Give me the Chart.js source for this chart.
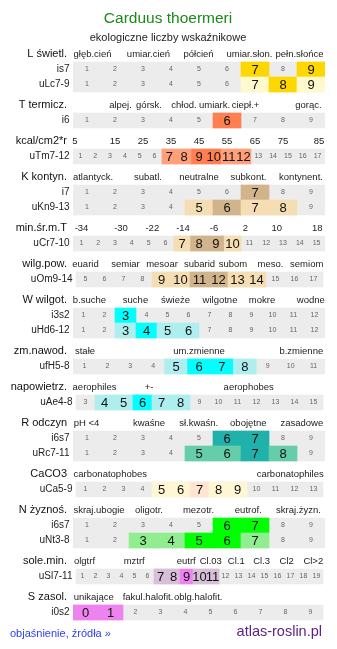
<!DOCTYPE html>
<html><head><meta charset="utf-8">
<script src="https://cdn.jsdelivr.net/npm/chart.js@4/dist/chart.umd.min.js"></script>
<style>html,body{margin:0;padding:0;background:#fff}#wrap{position:relative;width:337px;height:649px}</style>
</head><body><div id="wrap"><canvas id="c"></canvas></div>
<script>
// ---------- DATA ----------
const title = 'Carduus thoermeri';
const subtitle = 'ekologiczne liczby wskaźnikowe';
const groupNames = ['L świetl.','T termicz.','kcal/cm2*r','K kontyn.','min.śr.m.T','wilg.pow.','W wilgot.','zm.nawod.','napowietrz.','R odczyn','CaCO3','N żyznoś.','sole.min.','S zasol.'];
const groupRowCounts = [2,1,1,2,1,1,2,1,1,2,1,2,1,1];
const scaleLabels = [
  ['głęb.cień','umiar.cień','półcień','umiar.słon.','pełn.słońce'],
  ['alpej.','górsk.','chłod.','umiark.','ciepł.+','gorąc.'],
  ['5','15','25','35','45','55','65','75','85'],
  ['atlantyck.','subatl.','neutralne','subkont.','kontynent.'],
  ['-34','-30','-22','-14','-6','2','10','18'],
  ['euarid','semiar','mesoar','subarid','subom','meso.','semiom'],
  ['b.suche','suche','świeże','wilgotne','mokre','wodne'],
  ['stałe','um.zmienne','b.zmienne'],
  ['aerophiles','+-','aerophobes'],
  ['pH <4','kwaśne','sł.kwaśn.','obojętne','zasadowe'],
  ['carbonatophobes','carbonatophiles'],
  ['skraj.ubogie','oligotr.','mezotr.','eutrof.','skraj.żyzn.'],
  ['olgtrf','mztrf','eutrf','Cl.03','Cl.1','Cl.3','Cl2','Cl>2'],
  ['unikające','fakul.halofit.','oblg.halofit.']
];
const rowLabels = ['is7','uLc7-9','i6','uTm7-12','i7','uKn9-13','uCr7-10','uOm9-14','i3s2','uHd6-12','ufH5-8','uAe4-8','i6s7','uRc7-11','uCa5-9','i6s7','uNt3-8','uSl7-11','i0s2'];
const rowFirst = [1,1,1,1,1,1,1,5,1,1,1,3,1,1,1,1,1,1,0];
const rowLast  = [9,9,9,17,9,9,15,17,12,12,11,15,9,9,13,9,9,19,9];
const strongCells = [[7,9],[8],[6],[9,10],[7],[6],[8,9],[11,12],[3],[4],[6,7],[6],[6,7],[7],[7],[6,7],[5,6],[9],[0,1]];
const weakCells   = [[],[7,9],[],[7,8,11,12],[],[5,7,8],[7,10],[9,10,13,14],[],[3,5,6],[5,8],[4,5,7,8],[],[5,6,8],[5,6,8,9],[],[3,4,7],[7,8,10,11],[]];
const footerLeft = 'objaśnienie, źródła »';
const footerRight = 'atlas-roslin.pl';

// ---------- LAYOUT / STYLE ----------
const rowColorKey = ['L','L','T','T','K','K','K','K','W','W','W','W','R','R','Ca','N','N','Sl','Sl'];
const palette = {
  L:['#ffd700','#fffacd'], T:['#ff7f50','#ffa07a'], K:['#d2b48c','#f5deb3'],
  W:['#00ffff','#afeeee'], R:['#20b2aa','#66cdaa'], Ca:['#ffe6d2','#fff6d4'],
  N:['#00ff00','#90ee90'], Sl:['#ee82ee','#d8bfd8']
};
const rowFrame = ['A','A','A','A','A','A','A','B','A','A','A','B','A','A','B','A','A','B','C'];
const frames = {A:[0,252], B:[3,250], C:[0,250]};
const headerX = [
  [19.5,75.5,125.5,176.5,226.5],
  [47.5,76,111,141.5,172.5,235.5],
  [2,42,70,98,126,154,182,210,246],
  [20,75,126,175.5,228],
  [8.5,48,79.3,110,141,172.5,203.7,244.3],
  [12.5,52.5,89,126.5,160,197.5,233.7],
  [16.5,62.5,102.5,147,189,237.8],
  [12,126,228.3],
  [21.5,76,175.7],
  [13.5,76,125.7,175.3,228.8],
  [37.3,217.2],
  [26,76,125.5,175.3,225.5],
  [11.5,61.2,113.2,137.8,163.3,188.7,213.7,240.3],
  [20.7,75,125.2]
];
const FONT = "'Liberation Sans', Arial, sans-serif";
const firstHeaderY = 54, headerToRow = 15.5, rowPitch = 15, rowToHeader = 20.5;

// compute vertical layout
const headerY = [], rowY = [];
let yy = firstHeaderY;
groupRowCounts.forEach((n, g) => {
  headerY.push(yy);
  yy += headerToRow;
  for (let k = 0; k < n; k++) { rowY.push(yy); if (k < n - 1) yy += rowPitch; }
  yy += rowToHeader;
});

// build datasets
const bgData = [], cellData = [], cellColors = [], cellTexts = [];
rowLabels.forEach((lab, r) => {
  const [fs, fe] = frames[rowFrame[r]];
  const n = rowLast[r] - rowFirst[r] + 1;
  const w = (fe - fs) / n;
  bgData.push({x:[fs, fe], y: rowY[r]});
  for (let v = rowFirst[r]; v <= rowLast[r]; v++) {
    const i = v - rowFirst[r];
    const s = strongCells[r].includes(v), wk = weakCells[r].includes(v);
    cellTexts.push({x: fs + (i + 0.5) * w, y: rowY[r], t: String(v), big: s || wk});
    if (s || wk) {
      cellData.push({x:[fs + i * w, fs + (i + 1) * w], y: rowY[r]});
      cellColors.push(palette[rowColorKey[r]][s ? 0 : 1]);
    }
  }
});

const textPlugin = {
  id: 'texts',
  afterDraw(chart) {
    const ctx = chart.ctx, xs = chart.scales.x, ys = chart.scales.y;
    const X = v => xs.getPixelForValue(v), Y = v => ys.getPixelForValue(v);
    ctx.save();
    ctx.textBaseline = 'middle';
    // title
    ctx.textAlign = 'center';
    ctx.fillStyle = '#1a8a1a';
    ctx.font = '15.5px ' + FONT;
    ctx.fillText(title, 168, Y(19));
    ctx.fillStyle = '#222';
    ctx.font = '11px ' + FONT;
    ctx.fillText(subtitle, 168, Y(38));
    // groups
    groupNames.forEach((g, gi) => {
      ctx.textAlign = 'right';
      ctx.fillStyle = '#111';
      ctx.font = '11px ' + FONT;
      ctx.fillText(g, 67, Y(headerY[gi]));
      ctx.textAlign = 'center';
      ctx.fillStyle = '#222';
      ctx.font = '9.5px ' + FONT;
      scaleLabels[gi].forEach((s, si) => ctx.fillText(s, X(headerX[gi][si]), Y(headerY[gi])));
    });
    // row labels
    ctx.textAlign = 'right';
    ctx.font = '10px ' + FONT;
    ctx.fillStyle = '#222';
    rowLabels.forEach((l, r) => ctx.fillText(l, X(frames[rowFrame[r]][0] - 3.5), Y(rowY[r])));
    // cell numbers
    ctx.textAlign = 'center';
    cellTexts.forEach(c => {
      if (c.big) { ctx.font = '13px ' + FONT; ctx.fillStyle = '#111'; }
      else { ctx.font = '7px ' + FONT; ctx.fillStyle = '#666'; }
      ctx.fillText(c.t, X(c.x), Y(c.y) + (c.big ? 0.5 : 0));
    });
    // footer
    ctx.textAlign = 'left';
    ctx.fillStyle = '#3040ee';
    ctx.font = '11px ' + FONT;
    ctx.fillText(footerLeft, 10, Y(634));
    ctx.textAlign = 'right';
    ctx.fillStyle = '#5c2382';
    ctx.font = '14.5px ' + FONT;
    ctx.fillText(footerRight, 322, Y(632));
    ctx.restore();
  }
};

new Chart(document.getElementById('c'), {
  type: 'bar',
  data: {
    datasets: [
      {data: cellData, backgroundColor: cellColors, order: 0},
      {data: bgData, backgroundColor: '#ececec', order: 1}
    ]
  },
  options: {
    indexAxis: 'y',
    responsive: true,
    maintainAspectRatio: false,
    animation: false,
    devicePixelRatio: 1,
    layout: {padding: {left: 73, right: 12, top: 0, bottom: 0}},
    datasets: {bar: {grouped: false, barThickness: 15, borderWidth: 0, borderSkipped: false}},
    scales: {
      x: {type: 'linear', min: 0, max: 252, display: false, offset: false, grace: 0},
      y: {type: 'linear', min: 0, max: 649, reverse: true, display: false, offset: false, grace: 0}
    },
    plugins: {legend: {display: false}, tooltip: {enabled: false}}
  },
  plugins: [textPlugin]
});
</script></body></html>
